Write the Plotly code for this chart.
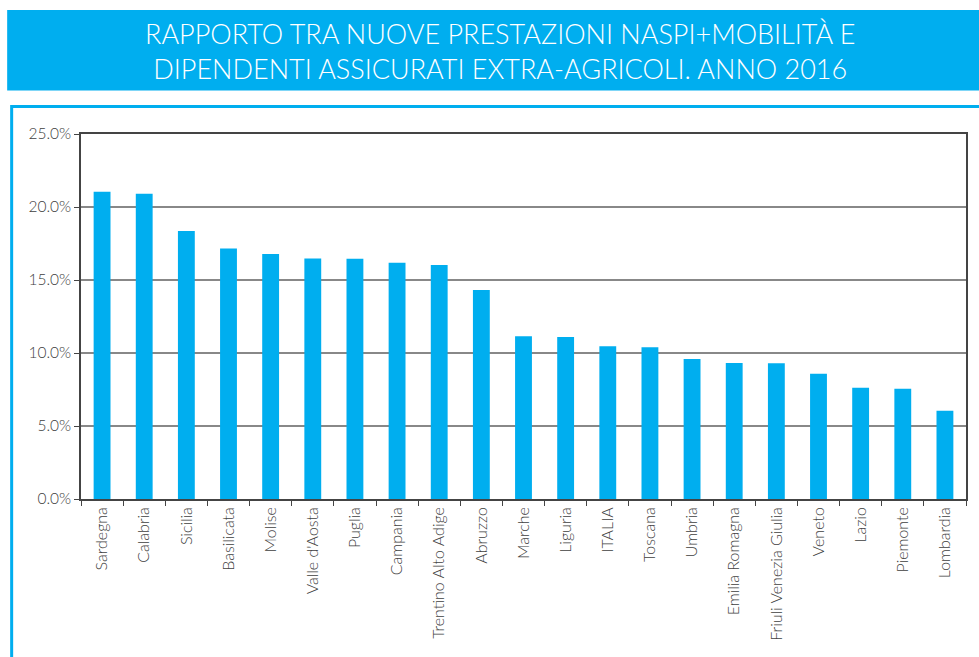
import plotly.graph_objects as go

regions = ["Sardegna", "Calabria", "Sicilia", "Basilicata", "Molise", "Valle d'Aosta",
           "Puglia", "Campania", "Trentino Alto Adige", "Abruzzo", "Marche", "Liguria",
           "ITALIA", "Toscana", "Umbria", "Emilia Romagna", "Friuli Venezia Giulia",
           "Veneto", "Lazio", "Piemonte", "Lombardia"]
values = [21.05, 20.9, 18.35, 17.15, 16.78, 16.48, 16.46, 16.18, 16.03, 14.32,
          11.14, 11.1, 10.46, 10.39, 9.59, 9.32, 9.3, 8.58, 7.62, 7.55, 6.05]
y_ticks = [0, 5, 10, 15, 20, 25]
y_tick_labels = ["0.0%", "5.0%", "10.0%", "15.0%", "20.0%", "25.0%"]
title_lines = ["RAPPORTO TRA NUOVE PRESTAZIONI NASPI+MOBILITÀ E",
               "DIPENDENTI ASSICURATI EXTRA-AGRICOLI. ANNO 2016"]

W, H = 979, 657
L, R, T, B = 81, 968, 134, 499
CYAN = "#00AEEF"
FONT = "Lato"
TXT = "#404040"


def px(x):
    return (x - L) / (R - L)


def py(y):
    return (B - y) / (B - T)


fig = go.Figure(go.Bar(
    x=regions, y=values, marker=dict(color=CYAN, line=dict(width=0)),
    width=0.4,
))

fig.update_layout(
    width=W, height=H,
    margin=dict(l=L, r=W - R, t=T, b=H - B),
    paper_bgcolor="white", plot_bgcolor="white",
    showlegend=False,
    font=dict(family=FONT, color=TXT, size=16, weight=300),
    shapes=[
        dict(type="rect", xref="paper", yref="paper",
             x0=px(7), x1=px(995), y0=py(90.5), y1=py(10),
             fillcolor=CYAN, line=dict(width=0), layer="below"),
        dict(type="rect", xref="paper", yref="paper",
             x0=px(11.5), x1=px(995), y0=py(680), y1=py(106.5),
             fillcolor="rgba(0,0,0,0)", line=dict(color=CYAN, width=3), layer="below"),
    ],
    annotations=[
        dict(text="<br>".join(title_lines), xref="paper", yref="paper",
             x=px(501), y=py(51), xanchor="center", yanchor="middle",
             showarrow=False, align="center",
             font=dict(family=FONT, size=27, color="white", weight=300)),
    ],
)

fig.update_xaxes(
    showline=True, linecolor="#444444", linewidth=1.5, mirror=True,
    ticks="outside", tickson="boundaries", ticklen=5, tickcolor="#444444",
    tickangle=-90, tickfont=dict(size=16, color=TXT, weight=300),
    showgrid=False,
)
fig.update_yaxes(
    range=[0, 25], tickvals=y_ticks, ticktext=y_tick_labels,
    showline=True, linecolor="#444444", linewidth=1.5, mirror=True,
    ticks="outside", ticklen=5, tickcolor="#444444",
    showgrid=True, gridcolor="#888888", gridwidth=1.5,
    tickfont=dict(size=15.5, color=TXT, weight=300), zeroline=False,
)

fig.write_html("out.html", config={"displayModeBar": False},
               post_script="document.body.style.margin='0';document.body.style.overflow='hidden';")
